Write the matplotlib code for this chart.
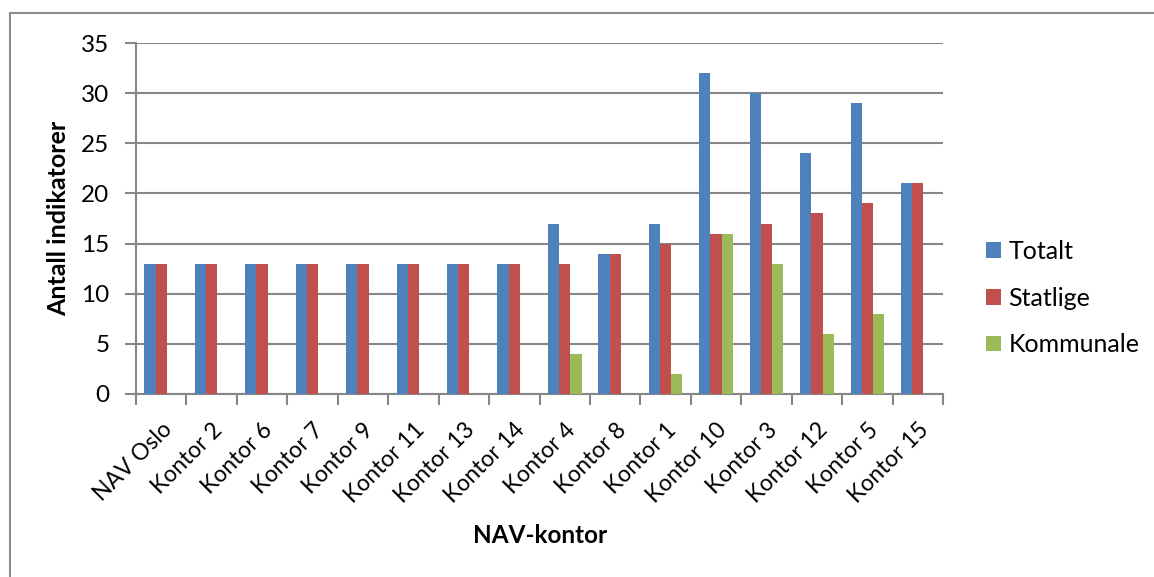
import matplotlib.pyplot as plt
import numpy as np
from matplotlib.patches import Rectangle

plt.rcParams['font.family'] = ['Lato', 'DejaVu Sans']

kontor = ['NAV Oslo', 'Kontor 2', 'Kontor 6', 'Kontor 7', 'Kontor 9', 'Kontor 11',
          'Kontor 13', 'Kontor 14', 'Kontor 4', 'Kontor 8', 'Kontor 1', 'Kontor 10',
          'Kontor 3', 'Kontor 12', 'Kontor 5', 'Kontor 15']
totalt = [13, 13, 13, 13, 13, 13, 13, 13, 17, 14, 17, 32, 30, 24, 29, 21]
statlige = [13, 13, 13, 13, 13, 13, 13, 13, 13, 14, 15, 16, 17, 18, 19, 21]
kommunale = [0, 0, 0, 0, 0, 0, 0, 0, 4, 0, 2, 16, 13, 6, 8, 0]

serier = [('Totalt', totalt, '#4F81BD'),
          ('Statlige', statlige, '#C0504D'),
          ('Kommunale', kommunale, '#9BBB59')]

W, H = 1154, 577
fig = plt.figure(figsize=(W / 100, H / 100), dpi=100)
ax = fig.add_axes([136 / W, 1 - 394 / H, (943 - 136) / W, (394 - 43) / H])

# ramme rundt hele diagrammet
fig.patches.append(Rectangle((10 / W, -0.05), 1.2, 1 - 13 / H + 0.05,
                             transform=fig.transFigure, fill=False,
                             edgecolor='#8c8c8c', linewidth=1.5))

x = np.arange(len(kontor))
bw = 1 / 4.5
for i, (navn, verdier, farge) in enumerate(serier):
    ax.bar(x + (i - 1) * bw, verdier, width=bw, color=farge, label=navn, zorder=3)

grid_c = '#868686'
ax.set_ylim(0, 35)
ax.set_xlim(-0.5, len(kontor) - 0.5)
ax.set_yticks(range(0, 36, 5))
ax.yaxis.grid(True, color=grid_c, linewidth=1.5, zorder=0)
ax.set_xticks(x)
ax.set_xticklabels(kontor, rotation=45, ha='right', rotation_mode='anchor', fontsize=16.5)
ax.set_xticks(np.arange(-0.5, len(kontor), 1), minor=True)
ax.tick_params(axis='x', which='major', length=0, pad=18)
ax.tick_params(axis='x', which='minor', length=8, width=1.5, color=grid_c)
ax.tick_params(axis='y', length=8, width=1.5, color=grid_c, labelsize=17.5, pad=11)
for side in ['top', 'right']:
    ax.spines[side].set_visible(False)
for side in ['left', 'bottom']:
    ax.spines[side].set_color(grid_c)
    ax.spines[side].set_linewidth(1.5)

ax.set_ylabel('Antall indikatorer', fontsize=18, fontweight='bold')
ax.yaxis.set_label_coords((70 - 136) / (943 - 136), 0.5)
ax.set_xlabel('NAV-kontor', fontsize=17.5, fontweight='bold')
ax.xaxis.set_label_coords((540 - 136) / (943 - 136), -(524 - 394) / (394 - 43))

ax.legend(loc='center left', bbox_to_anchor=((986 - 136) / (943 - 136), (394 - 298) / (394 - 43)),
          frameon=False, borderpad=0, borderaxespad=0,
          fontsize=18, handlelength=0.6, handleheight=0.6, handletextpad=0.3,
          labelspacing=0.95)

fig.savefig('out.png', dpi=100)
